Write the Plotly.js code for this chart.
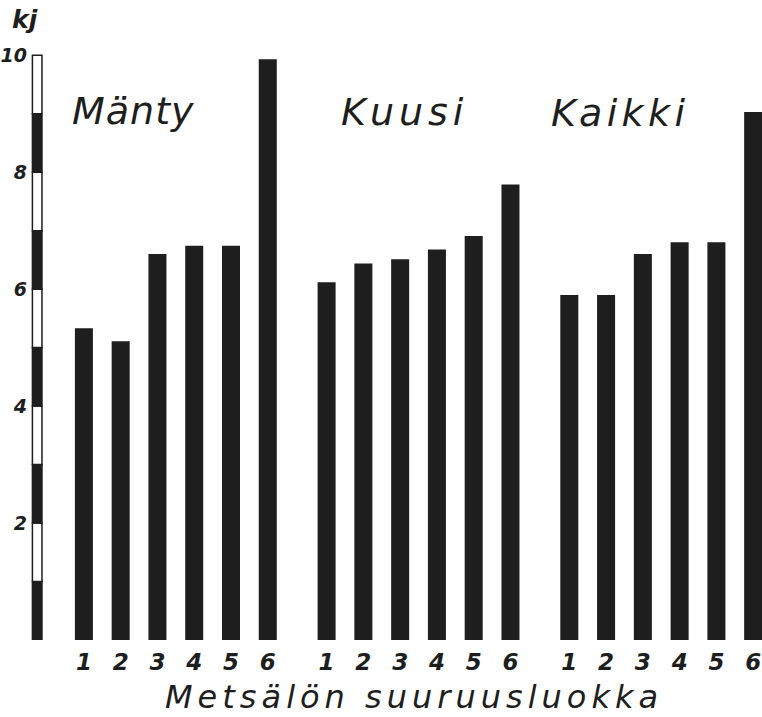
<!DOCTYPE html>
<html><head><meta charset="utf-8">
<script src="https://cdn.plot.ly/plotly-3.0.1.min.js"></script>
<style>body{margin:0;background:#fff}#c{width:762px;height:717px}</style>
</head><body><div id="c"></div>
<script>
// data
const groups = ["Mänty", "Kuusi", "Kaikki"];
const classes = ["1", "2", "3", "4", "5", "6"];
const manty = [5.33, 5.11, 6.60, 6.74, 6.74, 9.93];
const kuusi = [6.12, 6.44, 6.51, 6.68, 6.91, 7.79];
const kaikki = [5.90, 5.90, 6.60, 6.80, 6.80, 9.03];
const yTicks = [2, 4, 6, 8, 10];
const scaleBase = [0,1,2,3,4,5,6,7,8,9];
const unitLabel = "kj";
const xTitle = "Metsälön suuruusluokka";

const groupStart = [0, 6.6, 13.2];
const series = [manty, kuusi, kaikki];
const ink = "#1e1e1e";
const font = "DejaVu Sans";

const traces = [];
const tickvals = [], ticktext = [];
series.forEach((vals, g) => {
  const xs = vals.map((v, i) => groupStart[g] + i);
  xs.forEach((x, i) => { tickvals.push(x); ticktext.push(classes[i]); });
  traces.push({type: "bar", x: xs, y: vals, width: 0.49,
    marker: {color: ink, line: {width: 0}}, hoverinfo: "x+y", showlegend: false});
});
// scale bar
traces.push({type: "bar", x: scaleBase.map(() => -1.27), y: scaleBase.map(() => 1), base: scaleBase,
  width: 0.26, marker: {color: scaleBase.map(b => b % 2 === 0 ? ink : "#ffffff"), line: {color: ink, width: 1.5}},
  showlegend: false, hoverinfo: "skip"});

const gx = [1.36, 8.73, 14.58], gy = [9.05, 9.03, 9.02], gsp = [1, 5, 4.4];
const annotations = groups.map((g, k) => ({
  x: gx[k], y: gy[k], xref: "x", yref: "y", xanchor: "center", yanchor: "middle",
  text: '<span style="letter-spacing:' + gsp[k] + 'px"><i>' + g + '</i></span>', showarrow: false,
  font: {family: font, size: 38, color: ink}
}));
annotations.push({x: -0.004, y: 1.01, xref: "paper", yref: "paper", xanchor: "center", yanchor: "middle",
  text: '<b><i>' + unitLabel + '</i></b>', showarrow: false, font: {family: font, size: 25, color: ink}});
annotations.push({x: 0.526, y: -0.0928, xref: "paper", yref: "paper", xanchor: "center", yanchor: "middle",
  text: '<span style="letter-spacing:5px"><i>' + xTitle + '</i></span>', showarrow: false,
  font: {family: font, size: 32, color: ink}});

const layout = {
  width: 762, height: 717,
  margin: {l: 28, r: 0, t: 26, b: 77},
  paper_bgcolor: "#fff", plot_bgcolor: "#fff",
  barmode: "overlay",
  xaxis: {range: [-1.52, 18.44], tickvals: tickvals, ticktext: ticktext, showgrid: false, zeroline: false,
    showline: false, ticks: "", ticklen: 0, ticklabelstandoff: 6,
    tickfont: {family: font, size: 23, color: ink, style: "italic", weight: "bold"}},
  yaxis: {range: [0, 10.5], tickvals: yTicks, showgrid: false, zeroline: false, showline: false,
    ticks: "", tickfont: {family: font, size: 19, color: ink, style: "italic", weight: "bold"}},
  annotations: annotations
};
Plotly.newPlot("c", traces, layout, {displayModeBar: false, staticPlot: true});
</script></body></html>
